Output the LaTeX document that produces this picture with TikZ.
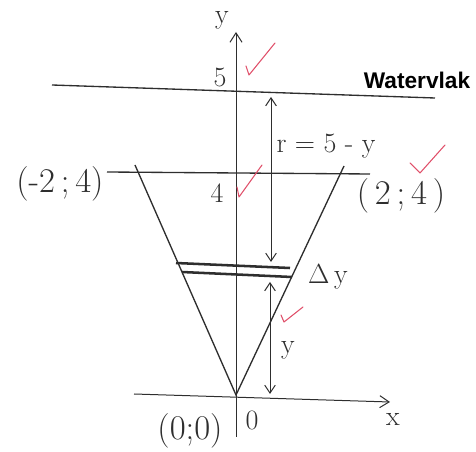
\documentclass[tikz,border=0pt]{standalone}
\usepackage{fontspec}
\newfontfamily\wvfont{Liberation Sans}
\usetikzlibrary{arrows.meta}
\definecolor{ink}{HTML}{2E2E2E}
\definecolor{chk}{HTML}{E0506A}
\tikzset{
  ink line/.style={draw=ink, line width=1pt},
  strip/.style={draw=ink, line width=1.9pt},
  dimarrow/.style={draw=ink, line width=0.75pt, {Straight Barb[length=6pt,width=8pt]}-{Straight Barb[length=6pt,width=8pt]}},
  axisarrow/.style={draw=ink, line width=0.75pt, -{Straight Barb[length=7pt,width=9pt]}},
  hand/.style={text=ink, font=\fontsize{21}{24}\selectfont, inner sep=0pt},
  coordlab/.style={text=ink, font=\fontsize{26}{28}\selectfont, inner sep=0pt},
  tick/.style={draw=chk, line width=0.8pt, line cap=round, line join=round},
}
\begin{document}
\begin{tikzpicture}[x=0.75pt,y=-0.75pt]
\useasboundingbox (0,0) rectangle (476,452);
% geometry
\coordinate (ybot) at (236,437);
\coordinate (ytop) at (236,32);
\coordinate (xl) at (134,394);
\coordinate (xr) at (390,402);
\coordinate (O) at (236,395);
\coordinate (l5a) at (52,85);
\coordinate (l5b) at (435,98);
\coordinate (l4a) at (107,172);
\coordinate (l4b) at (370,174);
\coordinate (tl) at (135,165);
\coordinate (tr) at (344,166);
\coordinate (da) at (271,97);
\coordinate (db) at (271,262);
\coordinate (dc) at (270,282);
\coordinate (dd) at (270,394);
\coordinate (s1a) at (176,263);
\coordinate (s1b) at (290,268);
\coordinate (s2a) at (182,272);
\coordinate (s2b) at (292,277);
% axes
\draw[axisarrow] (ybot) -- (ytop);
\draw[axisarrow] (xl) -- (xr);
% horizontal lines
\draw[ink line] (l5a) -- (l5b);
\draw[ink line] (l4a) -- (l4b);
% cone
\draw[ink line] (tl) -- (O) -- (tr);
% strip
\draw[strip] (s1a) -- (s1b);
\draw[strip] (s2a) -- (s2b);
% dimension arrows
\draw[dimarrow] (db) -- (da);
\draw[dimarrow] (dd) -- (dc);
% labels
\node[hand] (ylab) at (222,20) {y};
\node[hand] (five) at (220,77) {5};
\node[hand] (four) at (217,193) {4};
\node[coordlab] (pm24) at (60,184) {(-2\,;\,4)};
\node[coordlab] (pp24) at (401,196) {(\,2\,;\,4\,)};
\node[hand] (rlab) at (326,146) {r = 5 - y};
\node[hand] (dylab) at (328,277) {$\Delta$\,y};
\node[hand] (ylab2) at (288,350) {y};
\node[coordlab] (oo) at (190,431) {(0;0)};
\node[hand] (zero) at (252,420) {0};
\node[hand] (xlab) at (393,419) {x};
\node[text=black, inner sep=0pt, font=\wvfont\bfseries\fontsize{17}{19}\selectfont] (wv) at (417,80) {Watervlak};
% red ticks
\draw[tick] (246,66) -- (249,75) -- (275,43);
\draw[tick] (237,187) -- (239,197) -- (262,165);
\draw[tick] (410,163) -- (420,173) -- (445,145);
\draw[tick] (281,315) -- (284,322) -- (303,307);
\end{tikzpicture}
\end{document}
